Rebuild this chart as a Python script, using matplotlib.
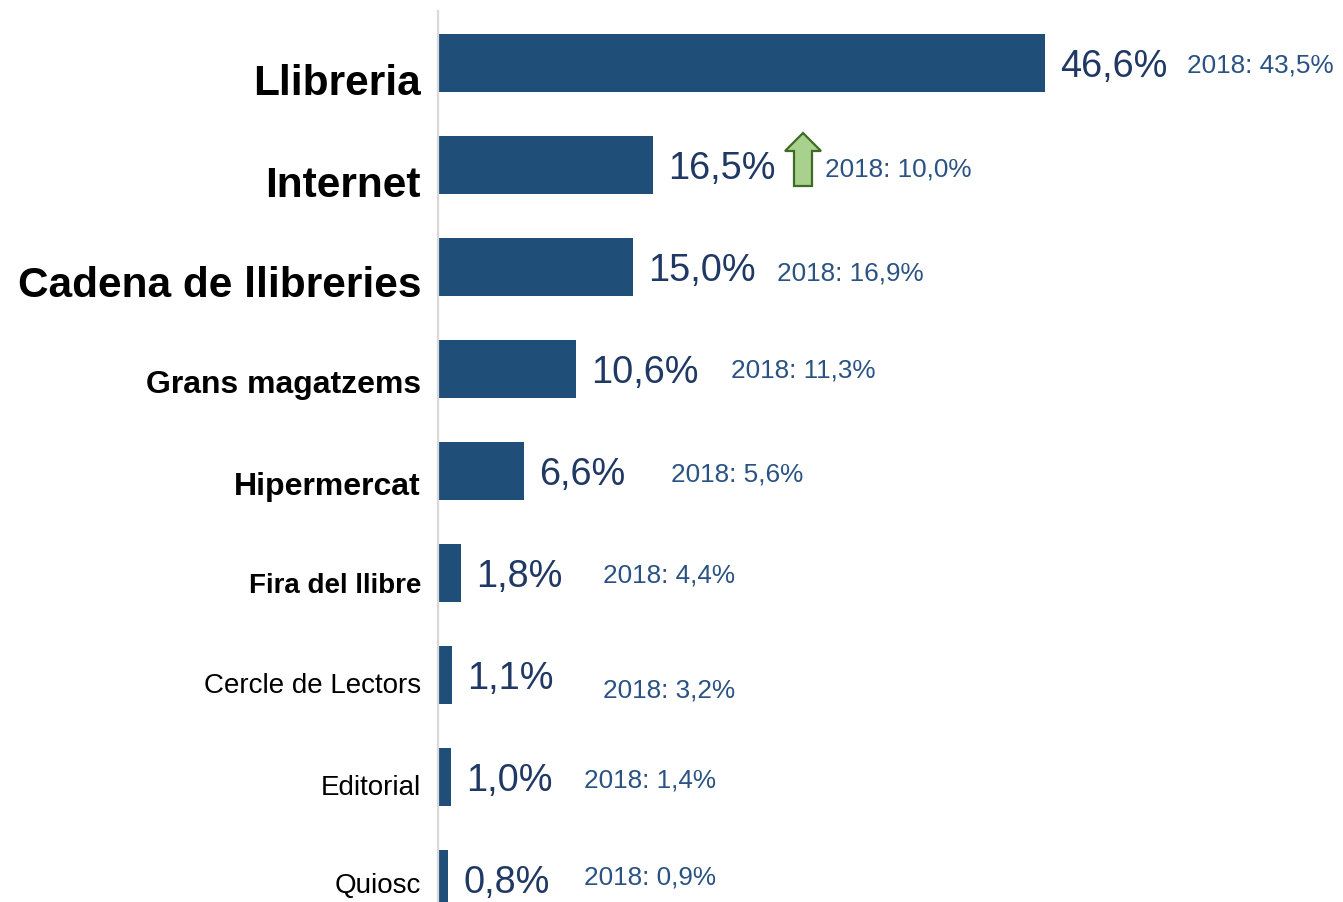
import matplotlib
matplotlib.use("Agg")
import matplotlib.pyplot as plt
import matplotlib.transforms as mtransforms
from matplotlib.patches import Polygon

plt.rcParams['font.family'] = ['Liberation Sans', 'DejaVu Sans']

# ---- data ----
categories = ["Llibreria", "Internet", "Cadena de llibreries", "Grans magatzems",
              "Hipermercat", "Fira del llibre", "Cercle de Lectors", "Editorial", "Quiosc"]
values_2019 = [46.6, 16.5, 15.0, 10.6, 6.6, 1.8, 1.1, 1.0, 0.8]
values_2018 = [43.5, 10.0, 16.9, 11.3, 5.6, 4.4, 3.2, 1.4, 0.9]

# ---- styles / layout ----
label_sizes = [30.5, 30.5, 30.5, 23, 23, 20, 20, 20, 20]
label_weights = ["bold"] * 6 + ["normal"] * 3
label_base_px = [32, 32, 30, 24, 24, 20, 18, 18, 14]       # baseline below bar centre
prev_x = [57.5, 29.7, 26.0, 22.5, 17.9, 12.7, 12.7, 11.2, 11.2]  # x of 2018 notes
prev_dy_px = [0, 2, 4, -1, 1, 0, 13, 1, -4]

BAR = "#1F4E79"
VAL = "#203864"
PREV = "#2A5283"

def fmt(v):
    return f"{v:.1f}".replace(".", ",") + "%"

fig = plt.figure(figsize=(13.43, 9.02), dpi=100)
W, H = 1343, 902
ax = fig.add_axes([438 / W, 0, (W - 438) / W, (H - 11) / H])

y = list(range(len(categories)))
ax.barh(y, values_2019, height=0.57, color=BAR, zorder=2)

ax.set_xlim(0, (W - 438) / 13.03)
ax.set_ylim(8 + 23 / 102, -52 / 102)

for s in ["top", "right", "bottom"]:
    ax.spines[s].set_visible(False)
ax.spines["left"].set_color("#D9D9D9")
ax.spines["left"].set_linewidth(1.6)
ax.set_xticks([])
ax.set_yticks([])

pt = 0.72  # px -> pt at 100 dpi
for i, (cat, v, pv) in enumerate(zip(categories, values_2019, values_2018)):
    ax.annotate(cat, xy=(0, i), xycoords=("axes fraction", "data"),
                xytext=(-17 * pt, -label_base_px[i] * pt), textcoords="offset points",
                ha="right", va="baseline", fontsize=label_sizes[i],
                fontweight=label_weights[i], color="black")
    ax.annotate(fmt(v), xy=(v, i), xytext=(15 * pt, -13.5 * pt), textcoords="offset points",
                ha="left", va="baseline", fontsize=27.3, color=VAL)
    ax.annotate("2018: " + fmt(pv), xy=(prev_x[i], i),
                xytext=(0, -(9.5 + prev_dy_px[i]) * pt), textcoords="offset points",
                ha="left", va="baseline", fontsize=18.8, color=PREV)

# green up arrow next to Internet
ax_x = (803 - 438) / 13.03
trans = fig.dpi_scale_trans + mtransforms.ScaledTranslation(ax_x, 1, ax.transData)
verts = [(0, 0.32), (0.18, 0.14), (0.09, 0.14), (0.09, -0.21),
         (-0.09, -0.21), (-0.09, 0.14), (-0.18, 0.14)]
arrow = Polygon(verts, closed=True, transform=trans, facecolor="#A9D18E",
                edgecolor="#3E6B26", linewidth=1.6, zorder=3, clip_on=False)
fig.add_artist(arrow)

fig.savefig("out.png", dpi=100)
